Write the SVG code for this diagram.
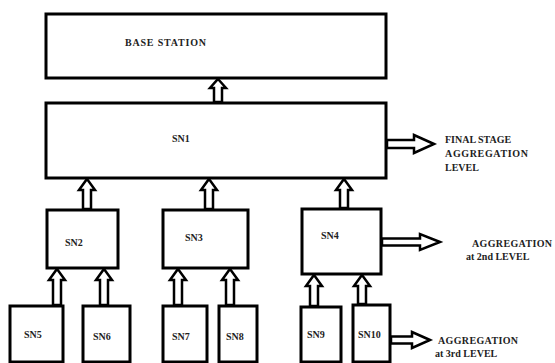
<svg xmlns="http://www.w3.org/2000/svg" width="555" height="363" viewBox="0 0 555 363">
<style>
.box{fill:#fff;stroke:#000;stroke-width:3}
.arr{fill:#fff;stroke:#000;stroke-width:2.5;stroke-linejoin:miter}
text{font-family:'Liberation Serif','Times New Roman','DejaVu Serif',serif;font-size:10px;font-weight:bold;fill:#222}
</style>
<rect width="555" height="363" fill="#fff"/>
<g id="connectors">
<path class="arr" d="M218,79 L226,88 L222,88 L222,102 L214,102 L214,88 L210,88 Z"/>
<path class="arr" d="M87,179 L95,190 L91,190 L91,209 L83,209 L83,190 L79,190 Z"/>
<path class="arr" d="M209,179 L217,190 L213,190 L213,209 L205,209 L205,190 L201,190 Z"/>
<path class="arr" d="M344,179 L352,190 L348,190 L348,208 L340,208 L340,190 L336,190 Z"/>
<path class="arr" d="M57,269 L65,280 L61,280 L61,305 L53,305 L53,280 L49,280 Z"/>
<path class="arr" d="M104,269 L112,280 L108,280 L108,305 L100,305 L100,280 L96,280 Z"/>
<path class="arr" d="M178,269 L186,280 L182,280 L182,305 L174,305 L174,280 L170,280 Z"/>
<path class="arr" d="M230,269 L238,280 L234,280 L234,305 L226,305 L226,280 L222,280 Z"/>
<path class="arr" d="M314,275 L322,286 L318,286 L318,306 L310,306 L310,286 L306,286 Z"/>
<path class="arr" d="M362,275 L370,286 L366,286 L366,304 L358,304 L358,286 L354,286 Z"/>
<path class="arr" d="M434,144 L414,135 L414,140 L387,140 L387,148 L414,148 L414,153 Z"/>
<path class="arr" d="M440,242 L420,234 L420,238.5 L382,238.5 L382,245.5 L420,245.5 L420,250 Z"/>
<path class="arr" d="M430,340 L412,332 L412,336.5 L391,336.5 L391,343.5 L412,343.5 L412,348 Z"/>
</g>
<g id="base-station"><rect class="box" x="46" y="14" width="340" height="64"/><text x="125" y="46" textLength="81">BASE STATION</text></g>
<g id="sn1"><rect class="box" x="46" y="103" width="340" height="75"/><text x="172" y="142">SN1</text></g>
<g id="sn2"><rect class="box" x="47" y="210" width="71" height="58"/><text x="65" y="246">SN2</text></g>
<g id="sn3"><rect class="box" x="163" y="210" width="85" height="58"/><text x="185" y="241">SN3</text></g>
<g id="sn4"><rect class="box" x="302" y="209" width="79" height="65"/><text x="321" y="239">SN4</text></g>
<g id="sn5"><rect class="box" x="10" y="306" width="53" height="56"/><text x="24" y="338">SN5</text></g>
<g id="sn6"><rect class="box" x="83" y="306" width="47" height="56"/><text x="93" y="340">SN6</text></g>
<g id="sn7"><rect class="box" x="163" y="306" width="44" height="56"/><text x="172" y="340">SN7</text></g>
<g id="sn8"><rect class="box" x="219" y="306" width="38" height="56"/><text x="226" y="340">SN8</text></g>
<g id="sn9"><rect class="box" x="301" y="307" width="40" height="55"/><text x="307" y="338">SN9</text></g>
<g id="sn10"><rect class="box" x="353" y="305" width="37" height="57"/><text x="358" y="338">SN10</text></g>
<g id="label-final">
<text x="445" y="143">FINAL STAGE</text>
<text x="445" y="157" textLength="83">AGGREGATION</text>
<text x="445" y="171">LEVEL</text>
</g>
<g id="label-2nd">
<text x="472" y="247" textLength="80">AGGREGATION</text>
<text x="466" y="260">at 2nd LEVEL</text>
</g>
<g id="label-3rd">
<text x="438" y="344" textLength="80">AGGREGATION</text>
<text x="435" y="357">at 3rd LEVEL</text>
</g>
</svg>
